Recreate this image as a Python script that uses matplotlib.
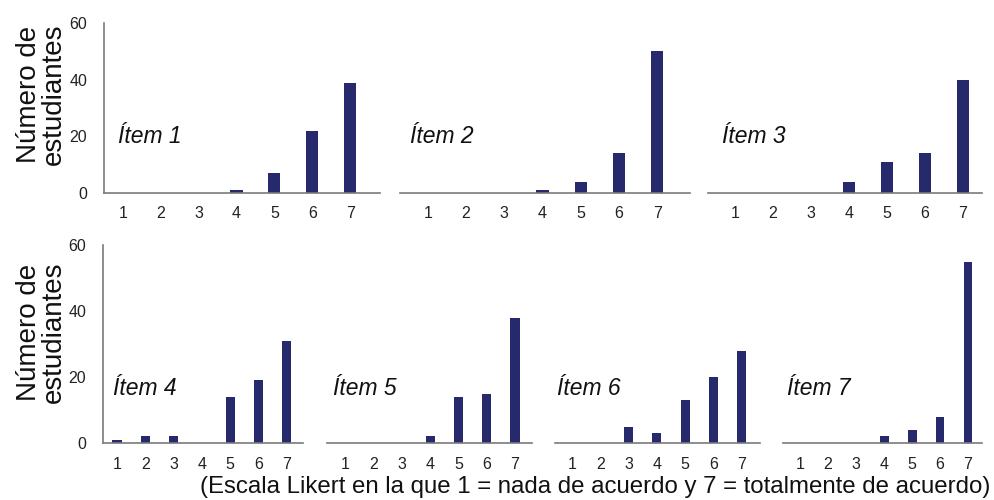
import matplotlib.pyplot as plt
import numpy as np

plt.rcParams['font.family'] = ['Liberation Sans', 'DejaVu Sans']

# Likert scale points and student counts per item
escala = [1, 2, 3, 4, 5, 6, 7]
item_1 = [0, 0, 0, 1, 7, 22, 39]
item_2 = [0, 0, 0, 1, 4, 14, 50]
item_3 = [0, 0, 0, 4, 11, 14, 40]
item_4 = [1, 2, 2, 0, 14, 19, 31]
item_5 = [0, 0, 0, 2, 14, 15, 38]
item_6 = [0, 0, 5, 3, 13, 20, 28]
item_7 = [0, 0, 0, 2, 4, 8, 55]
items = [item_1, item_2, item_3, item_4, item_5, item_6, item_7]
titulos = ['Ítem 1', 'Ítem 2', 'Ítem 3', 'Ítem 4', 'Ítem 5', 'Ítem 6', 'Ítem 7']
y_ticks = [0, 20, 40, 60]

W, H = 994, 500
bar_color = '#262a6c'
axis_color = '#7a7a7a'

# panel boxes in pixels: left, right, top, bottom, xlim, label x, label y
top_row = (23, 193)
bot_row = (245, 443)
panels = [
    (104, 380, top_row, (0.50, 7.79), 0.87, 20),
    (400, 690, top_row, (0.27, 7.86), 0.53, 20),
    (708, 982, top_row, (0.29, 7.50), 0.66, 20),
    (103, 303, bot_row, (0.505, 7.57), 0.86, 16.5),
    (327, 532, bot_row, (0.36, 7.60), 0.58, 16.5),
    (555, 760, bot_row, (0.40, 7.64), 0.47, 16.5),
    (783, 982, bot_row, (0.39, 7.50), 0.54, 16.5),
]

fig = plt.figure(figsize=(W / 100, H / 100), dpi=100)

for i, (vals, titulo, p) in enumerate(zip(items, titulos, panels)):
    x0, x1, (y_top, y_bot), xl, tx, ty = p
    ax = fig.add_axes([x0 / W, 1 - y_bot / H, (x1 - x0) / W, (y_bot - y_top) / H])
    ax.bar(escala, vals, width=0.32, color=bar_color, zorder=2)
    ax.set_xlim(*xl)
    ax.set_ylim(0, 60)
    ax.set_xticks(escala)
    ax.set_xticklabels([str(e) for e in escala])
    ax.tick_params(axis='x', length=0, pad=10 if i > 2 else 9, labelsize=11.5,
                   colors='#222222')
    for s in ['top', 'right']:
        ax.spines[s].set_visible(False)
    ax.spines['bottom'].set_color(axis_color)
    ax.spines['bottom'].set_linewidth(1.2)
    if i in (0, 3):
        ax.set_yticks(y_ticks)
        ax.tick_params(axis='y', length=0, pad=12, labelsize=11.5, colors='#222222')
        ax.spines['left'].set_color(axis_color)
        ax.spines['left'].set_linewidth(1.2)
    else:
        ax.set_yticks([])
        ax.spines['left'].set_visible(False)
    ax.patch.set_alpha(0)
    ax.text(tx, ty, titulo, fontsize=16.5, style='italic', va='center', ha='left',
            color='#111111')

for yc in (94, 332):
    fig.text(41 / W, 1 - yc / H, 'Número de\nestudiantes', rotation=90, fontsize=20,
             ha='center', va='center', multialignment='center', linespacing=0.95,
             color='#111111')

fig.text(990 / W, 1 - 487 / H,
         '(Escala Likert en la que 1 = nada de acuerdo y 7 = totalmente de acuerdo)',
         fontsize=17.3, ha='right', va='center', color='#111111')

fig.savefig('out.png', dpi=100)
